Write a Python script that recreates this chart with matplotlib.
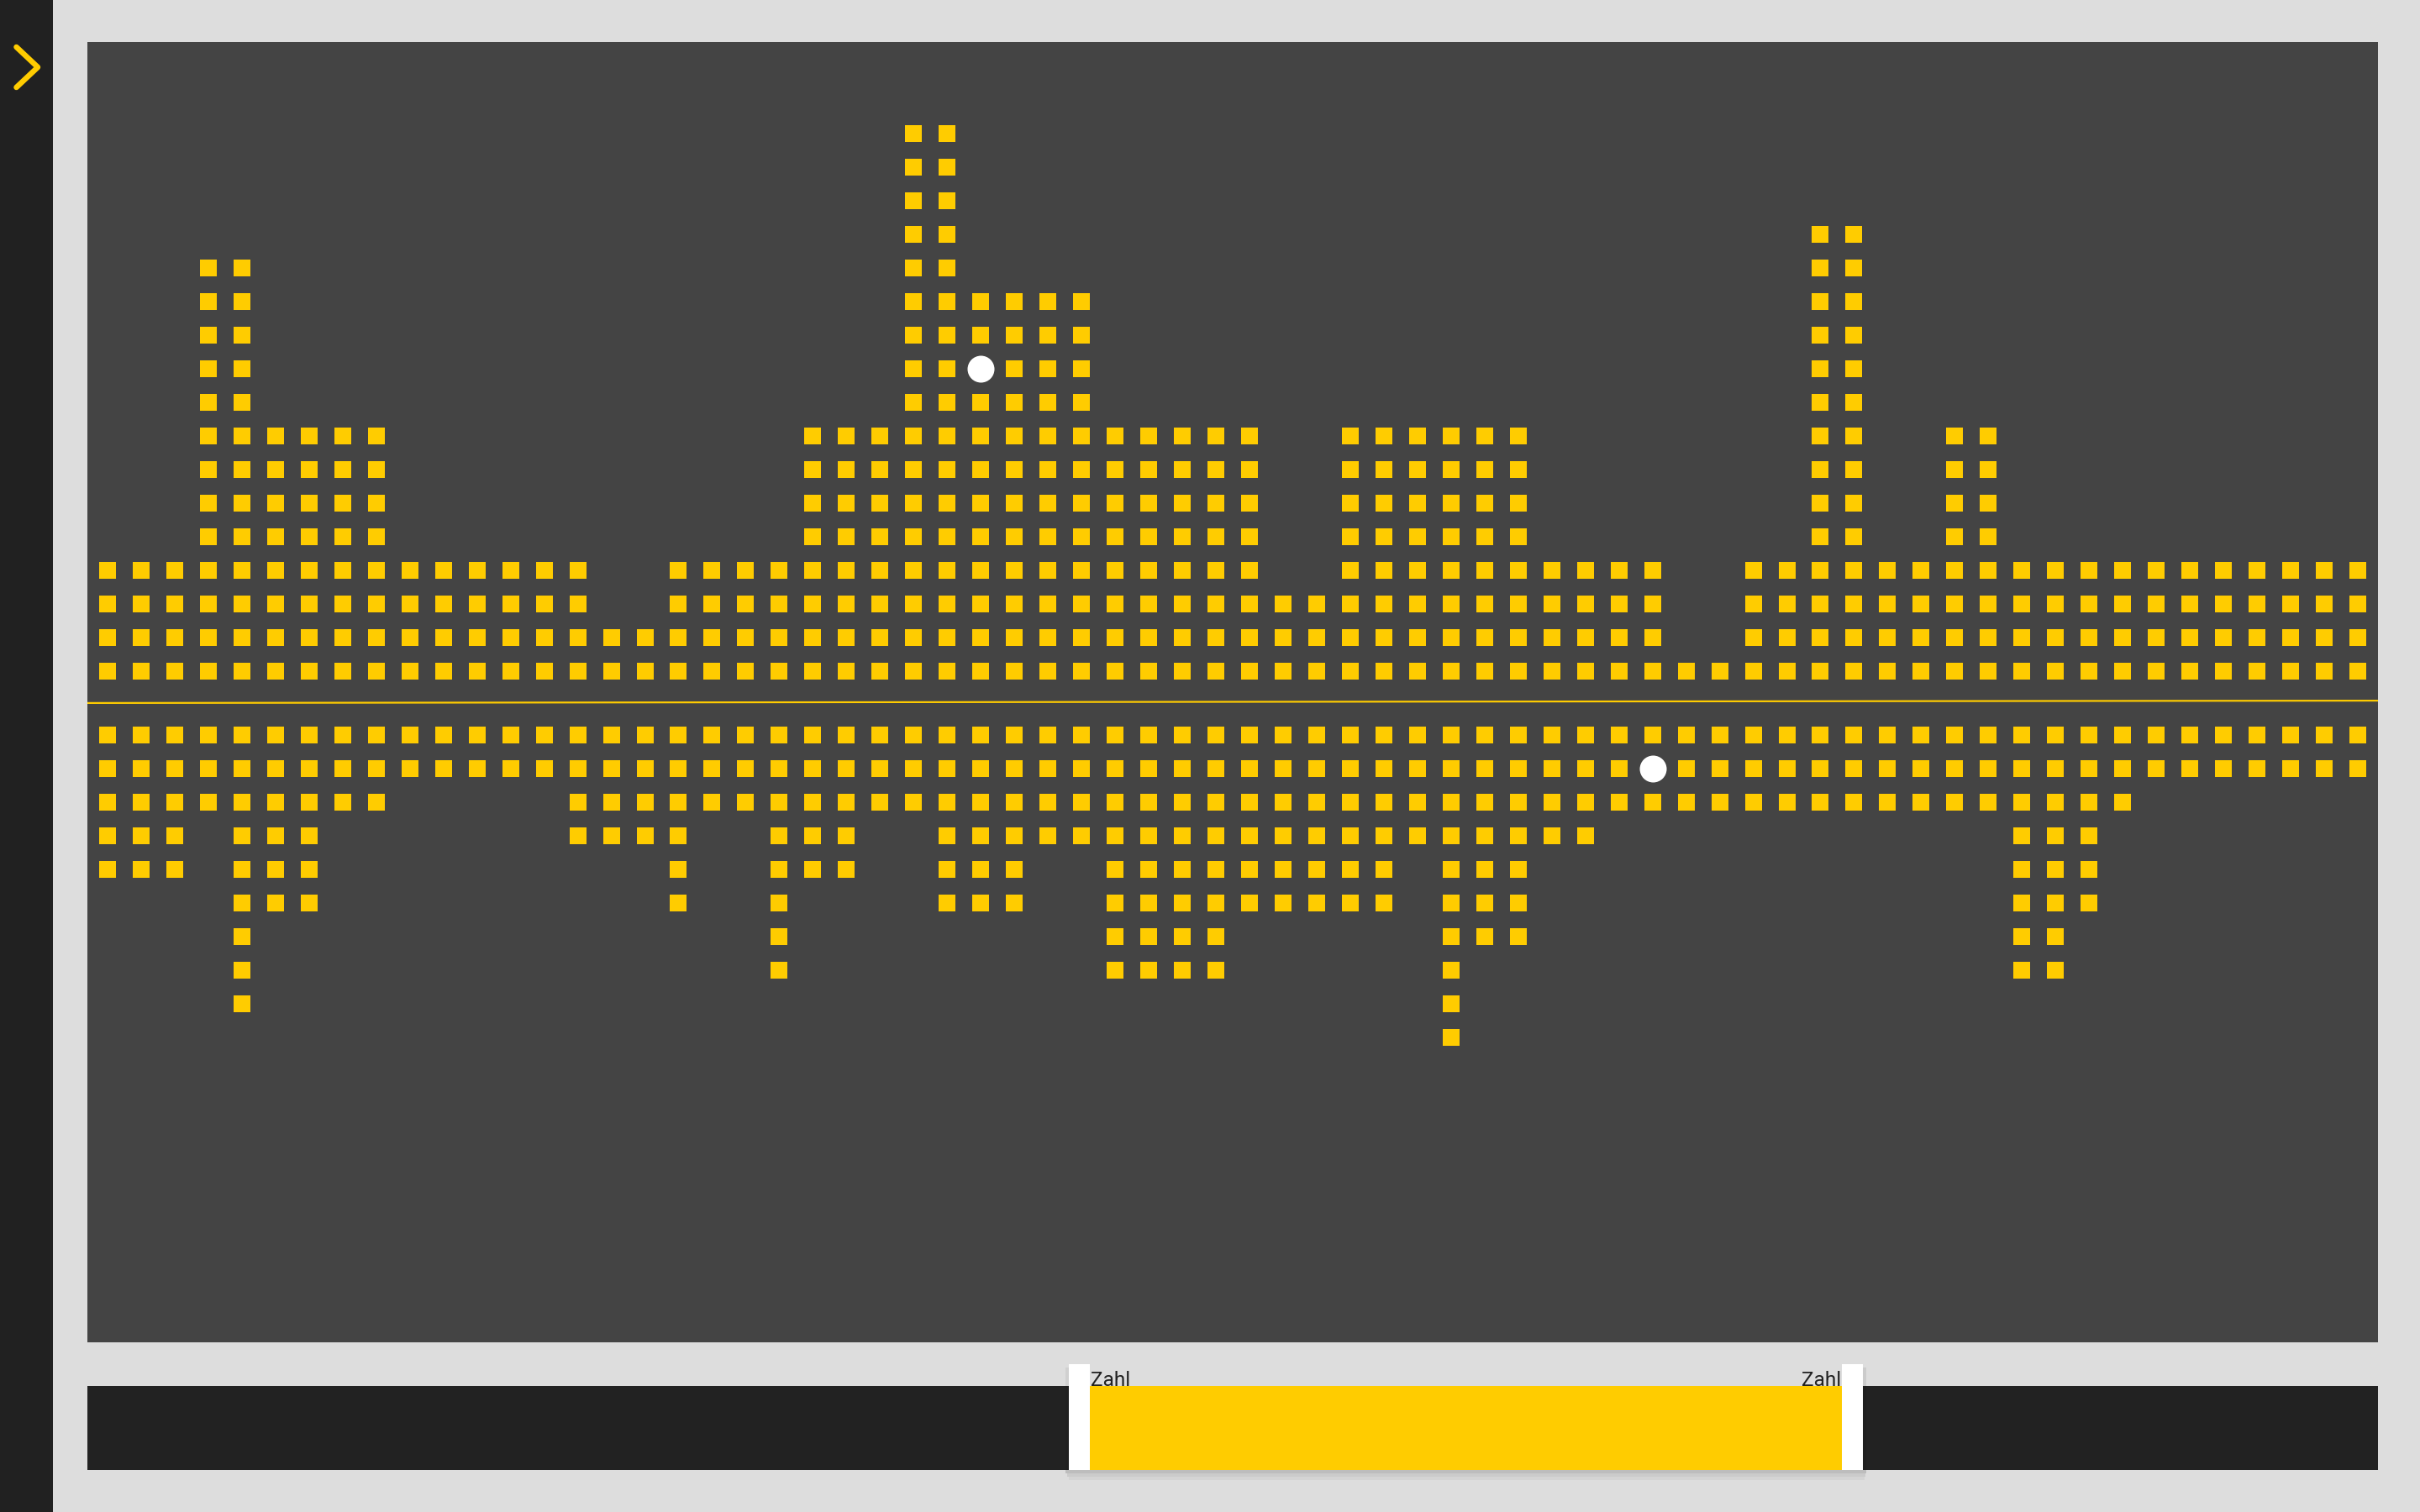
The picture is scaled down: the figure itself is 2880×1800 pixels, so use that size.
import matplotlib
matplotlib.use("Agg")
import matplotlib.pyplot as plt
from matplotlib.patches import Rectangle
from matplotlib.lines import Line2D

W, H, DPI = 2880, 1800, 200

# ---------------- data ----------------
columns = list(range(68))
upper_counts = [4, 4, 4, 13, 13, 8, 8, 8, 8, 4, 4, 4, 4, 4, 4, 2, 2,
                4, 4, 4, 4, 8, 8, 8, 17, 17, 12, 12, 12, 12, 8, 8, 8, 8,
                8, 3, 3, 8, 8, 8, 8, 8, 8, 4, 4, 4, 4, 1, 1, 4, 4,
                14, 14, 4, 4, 8, 8, 4, 4, 4, 4, 4, 4, 4, 4, 4, 4, 4]
lower_counts = [5, 5, 5, 3, 9, 6, 6, 3, 3, 2, 2, 2, 2, 2, 4, 4, 4,
                6, 3, 3, 8, 5, 5, 3, 3, 6, 6, 6, 4, 4, 8, 8, 8, 8,
                6, 6, 6, 6, 6, 4, 10, 7, 7, 4, 4, 3, 3, 3, 3, 3, 3,
                3, 3, 3, 3, 3, 3, 8, 8, 6, 3, 2, 2, 2, 2, 2, 2, 2]
highlight_upper = (26, 10)   # (column, row) shown as white dot
highlight_lower = (46, 2)
slider_labels = ["Zahl", "Zahl"]

# ---------------- style ----------------
YELLOW = "#ffcc00"
BG = "#dddddd"
PANEL = "#444444"
SIDEBAR = "#212121"
BAR = "#222222"


def frac_rect(x0, y0, x1, y1):
    """pixel box (top-origin) -> figure fraction [l, b, w, h]"""
    return [x0 / W, 1 - y1 / H, (x1 - x0) / W, (y1 - y0) / H]


fig = plt.figure(figsize=(W / DPI, H / DPI), dpi=DPI, facecolor=BG)


def add_box(x0, y0, x1, y1, color, z=-5, alpha=1.0):
    l, b, w, h = frac_rect(x0, y0, x1, y1)
    fig.add_artist(Rectangle((l, b), w, h, transform=fig.transFigure,
                             facecolor=color, edgecolor="none",
                             zorder=z, alpha=alpha))


# sidebar and panel
add_box(0, 0, 63, 1800, SIDEBAR)
add_box(104, 50, 2830, 1598, PANEL)

# chevron
fig.add_artist(Line2D([19.5 / W, 45 / W, 19.5 / W],
                      [1 - 56 / H, 1 - 80 / H, 1 - 104 / H],
                      transform=fig.transFigure, color=YELLOW,
                      lw=6.5 * 72 / DPI, solid_capstyle="round",
                      solid_joinstyle="round"))

# axes geometry
pitch = 39.97
x0c = 128.0
xlim = ((104 - x0c) / pitch, (2830 - x0c) / pitch)
mid = 836.5
ax_up = fig.add_axes(frac_rect(104, 50, 2830, mid))
ax_dn = fig.add_axes(frac_rect(104, mid, 2830, 1598))
ax_up.set_xlim(*xlim)
ax_dn.set_xlim(*xlim)
ax_up.set_ylim(0.07, 0.07 + (mid - 50) / 40.0)
ax_dn.set_ylim(-(0.05 + (1598 - mid) / 40.0), -0.05)
for ax in (ax_up, ax_dn):
    ax.set_facecolor("none")
    ax.axis("off")

sq = (20 * 72 / DPI) ** 2
dot = (32 * 72 / DPI) ** 2

ux, uy = [], []
for c, n in zip(columns, upper_counts):
    for k in range(1, n + 1):
        if (c, k) != highlight_upper:
            ux.append(c)
            uy.append(k)
lx, ly = [], []
for c, n in zip(columns, lower_counts):
    for k in range(1, n + 1):
        if (c, k) != highlight_lower:
            lx.append(c)
            ly.append(-k)

ax_up.scatter(ux, uy, marker="s", s=sq, c=YELLOW, linewidths=0)
ax_dn.scatter(lx, ly, marker="s", s=sq, c=YELLOW, linewidths=0)
ax_up.scatter([highlight_upper[0]], [highlight_upper[1]], marker="o",
              s=dot, c="white", linewidths=0, zorder=3)
ax_dn.scatter([highlight_lower[0]], [-highlight_lower[1]], marker="o",
              s=dot, c="white", linewidths=0, zorder=3)

# centre line
ax_up.plot([xlim[0], xlim[1]], [0.06, 0.13], color=YELLOW,
           lw=2.2 * 72 / DPI, clip_on=False, solid_capstyle="butt")

# ---------------- slider ----------------
add_box(104, 1650, 2830, 1750, BAR, z=1)
add_box(1268, 1750, 2221, 1754, "#000000", z=1, alpha=0.14)
add_box(1270, 1754, 2220, 1758, "#000000", z=1, alpha=0.08)
add_box(1272, 1758, 2219, 1762, "#000000", z=1, alpha=0.04)
add_box(2217, 1628, 2221, 1750, "#000000", z=1, alpha=0.08)
add_box(1268, 1628, 1272, 1750, "#000000", z=1, alpha=0.06)
fig.text(1298 / W, 1 - 1650.5 / H, slider_labels[0], ha="left", va="baseline",
         fontsize=8.8, family="Roboto", color="#222222", zorder=1.5)
fig.text(2191 / W, 1 - 1650.5 / H, slider_labels[1], ha="right", va="baseline",
         fontsize=8.8, family="Roboto", color="#222222", zorder=1.5)
add_box(1297, 1650, 2192, 1750, YELLOW, z=2)
add_box(1272, 1624, 1297, 1750, "white", z=2)
add_box(2192, 1624, 2217, 1750, "white", z=2)

fig.savefig("out.png", dpi=DPI, facecolor=BG)
